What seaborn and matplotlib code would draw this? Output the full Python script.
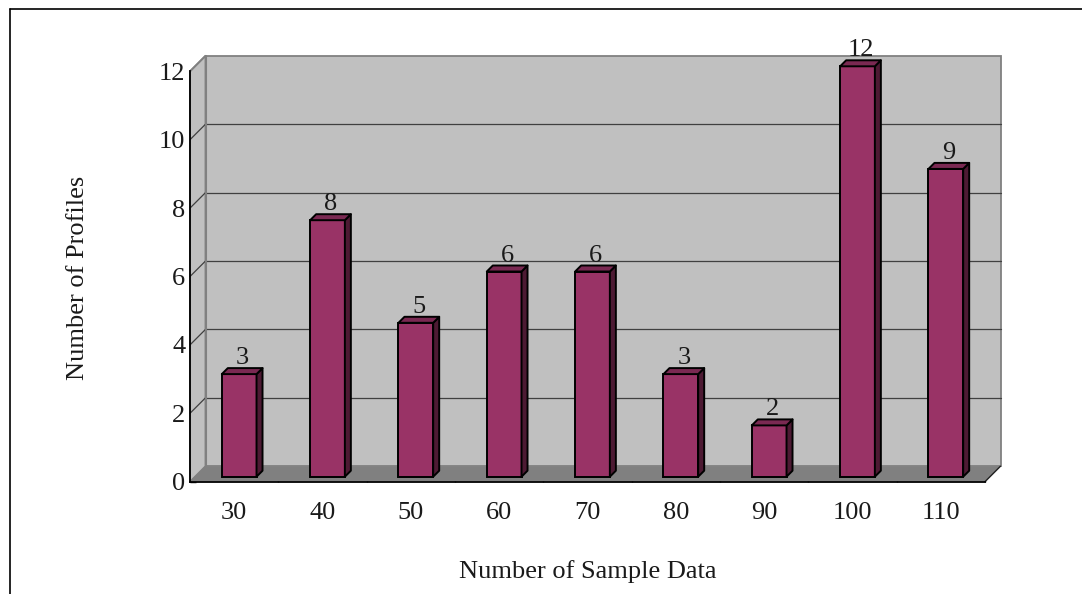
import numpy as np
import pandas as pd
import matplotlib
matplotlib.use("Agg")
import matplotlib.pyplot as plt
import seaborn as sns
from matplotlib import transforms
from matplotlib.patches import Polygon, Rectangle
from matplotlib.lines import Line2D
from matplotlib.ticker import FixedLocator

# ---- data ----
sample_sizes = ["30", "40", "50", "60", "70", "80", "90", "100", "110"]
profiles = [3, 7.5, 4.5, 6, 6, 3, 1.5, 12, 9]
y_ticks = [0, 2, 4, 6, 8, 10, 12]

# ---- style ----
sns.set_theme(style="white")
plt.rcParams["font.family"] = ["Liberation Serif", "DejaVu Serif"]
FS = 19

BAR_FRONT = "#993366"
BAR_TOP = "#7A2952"
BAR_SIDE = "#4D1A33"
WALL = "#C0C0C0"
FLOOR = "#808080"
WALL_EDGE = "#808080"
GRID = "#404040"

W, H, DPI = 1082, 594, 100
fig = plt.figure(figsize=(W / DPI, H / DPI), dpi=DPI)
fig.patch.set_facecolor("white")

# front plane of the 3D box (value axis / category axis live here)
left, right, bottom, top = 190, 985, 481.7, 71.3
ax = fig.add_axes([left / W, 1 - bottom / H, (right - left) / W, (bottom - top) / H])
ax.set_facecolor("none")

df = pd.DataFrame({"size": sample_sizes, "profiles": profiles})
sns.barplot(data=df, x="size", y="profiles", color=BAR_FRONT, saturation=1,
            width=0.393, edgecolor="black", linewidth=1.4, ax=ax, zorder=6)

ax.set_xlim(-0.5, len(sample_sizes) - 0.5)
ax.set_ylim(0, 12)

# pixel -> data unit conversion for the depth projection
p0 = ax.transData.transform((0, 0))
p1 = ax.transData.transform((1, 1))
kx, ky = p1[0] - p0[0], p1[1] - p0[1]

def depth(px):
    return px / kx, px / ky

wall_dx, wall_dy = depth(15.5)   # front plane -> back wall
mid_dx, mid_dy = depth(5.0)      # front plane -> bar plane
bar_dx, bar_dy = depth(6.0)      # bar depth

x0, x1 = -0.5, len(sample_sizes) - 0.5
ymax = 12

# back wall
ax.add_patch(Rectangle((x0 + wall_dx, wall_dy), x1 - x0, ymax, facecolor=WALL,
                       edgecolor=WALL_EDGE, linewidth=1.3, zorder=0, clip_on=False))
# left side wall
ax.add_patch(Polygon([(x0, 0), (x0, ymax), (x0 + wall_dx, ymax + wall_dy),
                      (x0 + wall_dx, wall_dy)], closed=True, facecolor=WALL,
                     edgecolor=WALL_EDGE, linewidth=1.3, zorder=1, clip_on=False))
# gridlines on the back wall and left wall
for yv in y_ticks[1:-1]:
    ax.add_line(Line2D([x0 + wall_dx, x1 + wall_dx], [yv + wall_dy, yv + wall_dy],
                       color=GRID, linewidth=0.9, zorder=1.5, clip_on=False))
    ax.add_line(Line2D([x0, x0 + wall_dx], [yv, yv + wall_dy],
                       color=GRID, linewidth=0.9, zorder=1.5, clip_on=False))
# re-stroke wall outlines over the gridlines
ax.add_line(Line2D([x0 + wall_dx] * 2, [wall_dy, ymax + wall_dy], color=WALL_EDGE,
                   linewidth=1.5, zorder=1.6, clip_on=False))
ax.add_line(Line2D([x0, x0 + wall_dx], [ymax, ymax + wall_dy], color=WALL_EDGE,
                   linewidth=1.3, zorder=1.6, clip_on=False))
# floor
ax.add_patch(Polygon([(x0, 0), (x1, 0), (x1 + wall_dx, wall_dy), (x0 + wall_dx, wall_dy)],
                     closed=True, facecolor=FLOOR, edgecolor="none", zorder=2,
                     clip_on=False))
ax.add_line(Line2D([x1, x1 + wall_dx], [0, wall_dy], color="#202020",
                   linewidth=1.0, zorder=2.1, clip_on=False))

# bars: move fronts to the bar plane and add top and side faces
mid = ax.transData + transforms.ScaledTranslation(5.0 / DPI, 5.0 / DPI, fig.dpi_scale_trans)
for patch, val in zip(ax.patches[:len(profiles)], profiles):
    patch.set_transform(mid)
    patch.set_clip_on(False)
    bx, bw = patch.get_x(), patch.get_width()
    h = patch.get_height()
    top_face = Polygon([(bx, h), (bx + bar_dx, h + bar_dy), (bx + bw + bar_dx, h + bar_dy),
                        (bx + bw, h)], closed=True, facecolor=BAR_TOP, edgecolor="black",
                       linewidth=1.4, transform=mid, zorder=6, clip_on=False,
                       joinstyle="round")
    side_face = Polygon([(bx + bw, 0), (bx + bw + bar_dx, bar_dy),
                         (bx + bw + bar_dx, h + bar_dy), (bx + bw, h)], closed=True,
                        facecolor=BAR_SIDE, edgecolor="black", linewidth=1.4,
                        transform=mid, zorder=6, clip_on=False, joinstyle="round")
    ax.add_patch(side_face)
    ax.add_patch(top_face)
    label = str(int(np.floor(val + 0.5)))
    ax.annotate(label, xy=(bx + bw / 2, h), xycoords=mid, xytext=(3, 10),
                textcoords="offset pixels", ha="center", va="baseline",
                fontsize=FS, color="#1a1a1a", zorder=7, annotation_clip=False)

# axes, ticks and labels
for side in ("top", "right"):
    ax.spines[side].set_visible(False)
for side in ("left", "bottom"):
    ax.spines[side].set_visible(True)
    ax.spines[side].set_color("black")
    ax.spines[side].set_linewidth(1.3)
    ax.spines[side].set_zorder(8)

ax.set_yticks(y_ticks)
ax.set_yticklabels([str(v) for v in y_ticks])
ax.tick_params(axis="y", which="major", direction="in", length=4.3, width=1.0,
               color="black", pad=3.5, labelsize=FS, labelcolor="#1a1a1a", left=True)
ax.set_xticks(range(len(sample_sizes)))
ax.set_xticklabels(sample_sizes)
ax.xaxis.set_minor_locator(FixedLocator(np.arange(x0, x1 + 0.01, 1.0)))
ax.tick_params(axis="x", which="major", length=0, pad=14.5, labelsize=FS,
               labelcolor="#1a1a1a")
ax.tick_params(axis="x", which="minor", direction="in", length=4.3, width=1.0,
               color="black", bottom=True)

ax.set_xlabel("Number of Sample Data", fontsize=FS, color="#1a1a1a")
ax.set_ylabel("Number of Profiles", fontsize=FS, color="#1a1a1a")
ax.xaxis.label.set_va("baseline")
ax.xaxis.set_label_coords((588 - left) / (right - left), (bottom - 578) / (bottom - top))
ax.yaxis.label.set_va("center")
ax.yaxis.set_label_coords((78 - left) / (right - left), (bottom - 278) / (bottom - top))

# outer chart frame
fig.add_artist(Line2D([10 / W, 1], [1 - 9 / H] * 2, transform=fig.transFigure,
                      color="black", linewidth=1.2))
fig.add_artist(Line2D([10 / W] * 2, [0, 1 - 9 / H], transform=fig.transFigure,
                      color="black", linewidth=1.2))

fig.savefig("out.png", dpi=DPI)
